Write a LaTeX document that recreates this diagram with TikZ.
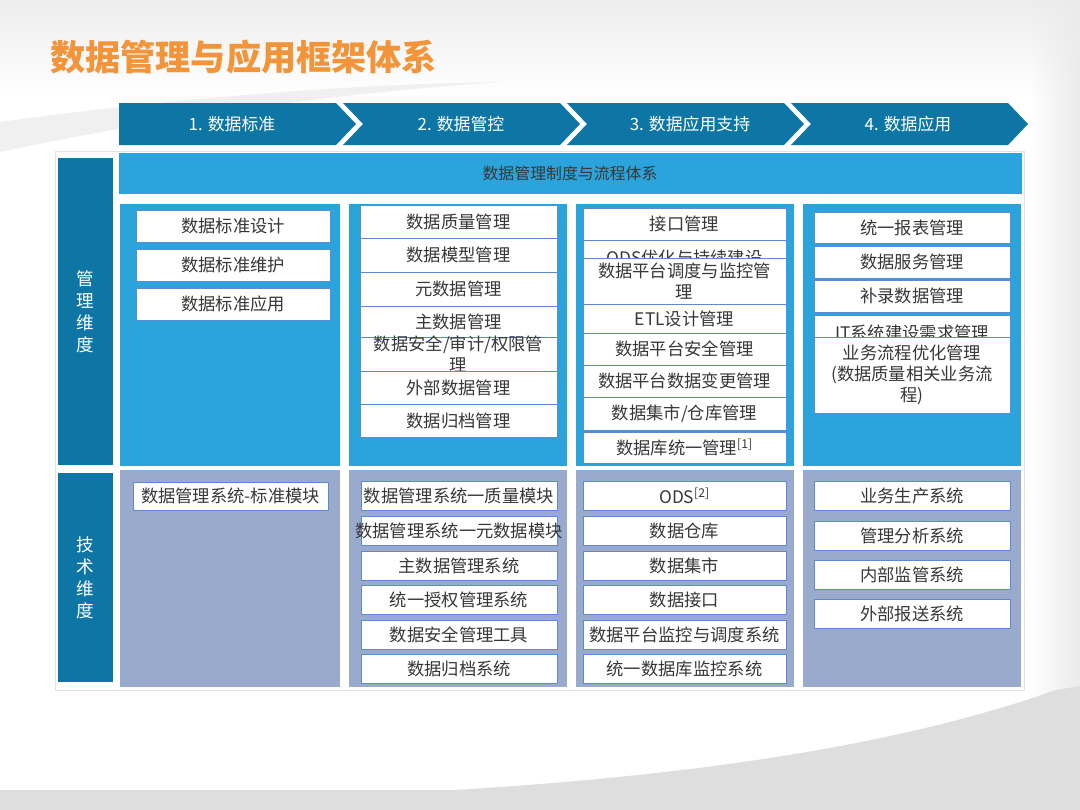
\documentclass[tikz,border=0pt]{standalone}
\usepackage{fontspec}
\setmainfont{Noto Sans CJK SC}
\usetikzlibrary{positioning,fadings}

\definecolor{deepblue}{RGB}{14,118,164}
\definecolor{skyblue}{RGB}{42,164,218}
\definecolor{slateblue}{RGB}{153,170,205}
\definecolor{edgeblue}{RGB}{92,138,212}
\definecolor{titleorange}{RGB}{242,148,58}
\definecolor{textgray}{RGB}{55,55,55}

\tikzset{
  cell/.style={draw=edgeblue, line width=0.5pt, fill=white, inner sep=0pt},
  celltext/.style={text=textgray, font=\fontsize{12.3}{15}\selectfont, align=center, inner sep=0pt},
  headtext/.style={text=white, font=\fontsize{12}{14}\selectfont, inner sep=0pt},
  dimbox/.style={fill=deepblue, text=white, align=center, inner sep=0pt,
    font=\fontsize{12.5}{15.6}\selectfont},
}

% box: name, x1, y1, x2, y2, text (px)
\newcommand{\boxcell}[6]{%
  \node[cell, minimum width={(#4-#2)*0.025cm}, minimum height={(#5-#3)*0.025cm}]
    (#1) at ({(#2+#4)/2},{(#3+#5)/2}) {};
  \node[celltext] (#1t) at (#1) {#6};}

\begin{document}
\begin{tikzpicture}[x=0.025cm, y=-0.025cm, line join=round]
  \useasboundingbox (0,0) rectangle (1080,810);
  % background
  \fill[white] (0,0) rectangle (1080,810);
  \shade[top color=gray!14, bottom color=white] (0,0) rectangle (1080,95);
  \fill[gray!16, path fading=west] (1030,0) rectangle (1080,700);
  \fill[gray!12] (0,122) .. controls (160,100) and (340,84) .. (505,82)
    .. controls (340,92) and (160,118) .. (0,152) -- cycle;
  \fill[gray!26] (0,790) -- (455,790) .. controls (700,775) and (900,745) .. (1056,690)
    -- (1080,686) -- (1080,810) -- (0,810) -- cycle;

  % title
  \node[anchor=west, text=titleorange, inner sep=0pt,
    font=\fontsize{25}{28}\selectfont\bfseries] (title) at (50,57) {数据管理与应用框架体系};

  % header arrows
  \foreach \i/\n/\c/\t in {0/0/232/{1. 数据标准}, 1/20/461/{2. 数据管控},
      2/20/690/{3. 数据应用支持}, 3/20/908/{4. 数据应用}}{
    \pgfmathsetmacro\xa{119+224*\i}
    \fill[deepblue] (\xa,103) -- ++(217,0) -- ++(20,21) -- ++(-20,21) -- ++(-217,0)
      -- ++(\n,-21) -- cycle;
    \node[headtext] (head\i) at (\c,124) {\t};
  }

  % frame and panels
  \draw[gray!22, fill=white] (55,151) rectangle (1024,690);
  \node[dimbox, minimum width={55*0.025cm}, minimum height={307*0.025cm}]
    (mgmt) at (85.5,311.5) {管\\理\\维\\度};
  \node[dimbox, minimum width={55*0.025cm}, minimum height={209*0.025cm}]
    (tech) at (85.5,577.5) {技\\术\\维\\度};
  \node[fill=skyblue, inner sep=0pt, minimum width={903*0.025cm}, minimum height={41*0.025cm},
    text=textgray, font=\fontsize{11.3}{13}\selectfont] (policy) at (570,173.5) {数据管理制度与流程体系};
  \foreach \xa/\xb in {120/340, 349/567, 576/794, 803/1021}{
    \fill[skyblue] (\xa,204) rectangle (\xb,466);
    \fill[slateblue] (\xa,470) rectangle (\xb,687);
  }

  % management column 1
  \boxcell{s1}{136}{210}{330}{242}{数据标准设计}
  \boxcell{s2}{136}{249}{330}{281}{数据标准维护}
  \boxcell{s3}{136}{288}{330}{320}{数据标准应用}
  % management column 2
  \boxcell{c1}{360}{205}{557}{238}{数据质量管理}
  \boxcell{c2}{360}{238}{557}{272}{数据模型管理}
  \boxcell{c3}{360}{272}{557}{306}{元数据管理}
  \boxcell{c4}{360}{306}{557}{337}{主数据管理}
  \boxcell{c5}{360}{337}{557}{371}{数据安全/审计/权限管\\理}
  \boxcell{c6}{360}{371}{557}{404}{外部数据管理}
  \boxcell{c7}{360}{404}{557}{437}{数据归档管理}
  % management column 3
  \boxcell{a1}{583}{208}{786}{240}{接口管理}
  \boxcell{a2}{583}{240}{786}{276}{ODS优化与持续建设}
  \boxcell{a3}{583}{258}{786}{304}{数据平台调度与监控管\\理}
  \boxcell{a4}{583}{304}{786}{333}{ETL设计管理}
  \boxcell{a5}{583}{333}{786}{365}{数据平台安全管理}
  \boxcell{a6}{583}{365}{786}{397}{数据平台数据变更管理}
  \boxcell{a7}{583}{397}{786}{430}{数据集市/仓库管理}
  \boxcell{a8}{583}{432}{786}{463}{数据库统一管理\textsuperscript{[1]}}
  % management column 4
  \boxcell{b1}{814}{212}{1010}{243}{统一报表管理}
  \boxcell{b2}{814}{246}{1010}{278}{数据服务管理}
  \boxcell{b3}{814}{280}{1010}{312}{补录数据管理}
  \boxcell{b4}{814}{315}{1010}{350}{IT系统建设需求管理}
  \boxcell{b5}{814}{337}{1010}{413}{业务流程优化管理\\(数据质量相关业务流\\程)}

  % technical columns
  \boxcell{t1}{133}{482}{328}{510}{数据管理系统-标准模块}
  \boxcell{u1}{361}{481}{557}{510}{数据管理系统一质量模块}
  \boxcell{u2}{361}{516}{557}{545}{数据管理系统一元数据模块}
  \boxcell{u3}{361}{551}{557}{580}{主数据管理系统}
  \boxcell{u4}{361}{585}{557}{614}{统一授权管理系统}
  \boxcell{u5}{361}{620}{557}{649}{数据安全管理工具}
  \boxcell{u6}{361}{654}{557}{683}{数据归档系统}
  \boxcell{v1}{583}{481}{786}{510}{ODS\textsuperscript{[2]}}
  \boxcell{v2}{583}{516}{786}{545}{数据仓库}
  \boxcell{v3}{583}{551}{786}{580}{数据集市}
  \boxcell{v4}{583}{585}{786}{614}{数据接口}
  \boxcell{v5}{583}{620}{786}{649}{数据平台监控与调度系统}
  \boxcell{v6}{583}{654}{786}{683}{统一数据库监控系统}
  \boxcell{w1}{814}{481}{1010}{510}{业务生产系统}
  \boxcell{w2}{814}{521}{1010}{550}{管理分析系统}
  \boxcell{w3}{814}{560}{1010}{589}{内部监管系统}
  \boxcell{w4}{814}{599}{1010}{628}{外部报送系统}
\end{tikzpicture}
\end{document}
